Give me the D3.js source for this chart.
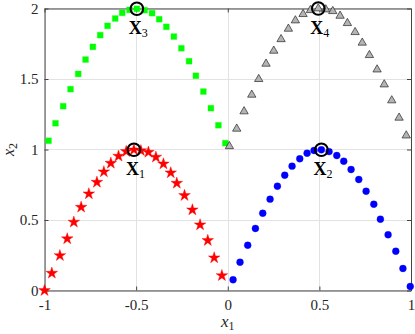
<!DOCTYPE html>
<html>
<head>
<meta charset="utf-8">
<script src="https://cdn.jsdelivr.net/npm/d3@7"></script>
<style>
  body { margin: 0; background: #fff; }
  svg { display: block; }
  text { font-family: "Liberation Serif", "DejaVu Serif", serif; fill: #262626; }
</style>
</head>
<body>
<div id="chart"></div>
<script>
// Series
const redX = [-1.0, -0.960, -0.916, -0.876, -0.840, -0.800, -0.758, -0.714, -0.676, -0.638, -0.596, -0.554, -0.512,
              -0.474, -0.433, -0.392, -0.351, -0.311, -0.278, -0.236, -0.193, -0.151, -0.109, -0.074, -0.032];
const redY = [0.0, 0.123, 0.248, 0.367, 0.485, 0.591, 0.686, 0.768, 0.842, 0.903, 0.953, 0.986, 0.998,
              0.992, 0.981, 0.946, 0.898, 0.835, 0.761, 0.674, 0.572, 0.466, 0.355, 0.232, 0.106];

const blueX = [0.029, 0.067, 0.109, 0.151, 0.191, 0.231, 0.271, 0.311, 0.351, 0.393, 0.433, 0.471, 0.511,
               0.553, 0.595, 0.633, 0.673, 0.715, 0.755, 0.797, 0.833, 0.875, 0.917, 0.956, 0.996];
const blueY = [0.076, 0.201, 0.321, 0.440, 0.548, 0.648, 0.740, 0.818, 0.882, 0.934, 0.974, 0.993, 0.998,
               0.985, 0.957, 0.917, 0.858, 0.787, 0.704, 0.612, 0.506, 0.395, 0.279, 0.156, 0.028];

const greenX = [-0.978, -0.940, -0.898, -0.858, -0.816, -0.776, -0.736, -0.696, -0.656, -0.614, -0.576, -0.536, -0.496,
                -0.454, -0.413, -0.374, -0.335, -0.294, -0.253, -0.211, -0.174, -0.133, -0.092, -0.051, -0.013];
const greenY = [1.062, 1.186, 1.307, 1.428, 1.536, 1.638, 1.728, 1.811, 1.877, 1.929, 1.969, 1.990, 1.998,
                1.988, 1.967, 1.924, 1.870, 1.801, 1.718, 1.626, 1.523, 1.411, 1.293, 1.172, 1.045];

const grayX = [0.009, 0.049, 0.089, 0.131, 0.169, 0.209, 0.251, 0.291, 0.331, 0.369, 0.411, 0.451, 0.494,
               0.535, 0.573, 0.613, 0.653, 0.695, 0.734, 0.773, 0.815, 0.854, 0.895, 0.935, 0.974];
const grayY = [1.023, 1.147, 1.270, 1.388, 1.499, 1.608, 1.700, 1.782, 1.856, 1.915, 1.960, 1.988, 2.0,
               1.993, 1.981, 1.948, 1.896, 1.832, 1.757, 1.669, 1.567, 1.461, 1.348, 1.225, 1.099];

// Highlighted points and their labels
const peakX = [-0.512, 0.511, -0.496, 0.494];
const peakY = [0.998, 0.998, 1.998, 2.0];
const peakLabels = ["1", "2", "3", "4"];

const xTicks = [-1, -0.5, 0, 0.5, 1];
const yTicks = [0, 0.5, 1, 1.5, 2];

const width = 415, height = 334;

const svg = d3.select("#chart").append("svg")
    .attr("width", width)
    .attr("height", height);

const x = d3.scaleLinear().domain([-1, 1]).range([44.5, 411]);
const y = d3.scaleLinear().domain([0, 2]).range([290.5, 8.5]);

// grid
const grid = svg.append("g").attr("stroke", "#e2e2e2").attr("stroke-width", 1);
grid.selectAll("line.gx").data(xTicks).enter().append("line")
    .attr("x1", d => Math.round(x(d)) + 0.5).attr("x2", d => Math.round(x(d)) + 0.5)
    .attr("y1", y(0)).attr("y2", y(2));
grid.selectAll("line.gy").data(yTicks).enter().append("line")
    .attr("y1", d => Math.round(y(d) - 0.5) + 0.5).attr("y2", d => Math.round(y(d) - 0.5) + 0.5)
    .attr("x1", x(-1)).attr("x2", x(1));

// axes (ticks inward, box on)
function styleAxis(g) {
    g.selectAll("path, line").attr("stroke", "#444");
    g.selectAll("text").style("font-size", "15px").attr("fill", "#262626");
}

svg.append("g")
    .attr("transform", `translate(0,${y(0)})`)
    .call(d3.axisBottom(x).tickValues(xTicks).tickSizeInner(-4).tickSizeOuter(0)
        .tickPadding(9).tickFormat(d => String(d)))
    .call(styleAxis);

svg.append("g")
    .attr("transform", `translate(${x(-1)},0)`)
    .call(d3.axisLeft(y).tickValues(yTicks).tickSizeInner(-4).tickSizeOuter(0)
        .tickPadding(6).tickFormat(d => String(d)))
    .call(styleAxis);

svg.append("g")
    .attr("transform", `translate(0,${y(2)})`)
    .call(d3.axisTop(x).tickValues(xTicks).tickSizeInner(-4).tickSizeOuter(0).tickFormat(""))
    .call(styleAxis);

svg.append("g")
    .attr("transform", `translate(${x(1)},0)`)
    .call(d3.axisRight(y).tickValues(yTicks).tickSizeInner(-4).tickSizeOuter(0).tickFormat(""))
    .call(styleAxis);

// series
function drawSeries(xs, ys, type, size, fill, stroke, sw) {
    const pts = xs.map((v, i) => [v, ys[i]]);
    svg.append("g").selectAll("path")
        .data(pts)
        .enter()
        .append("path")
        .attr("d", d3.symbol().type(type).size(size))
        .attr("transform", d => `translate(${x(d[0])},${y(d[1])})`)
        .attr("fill", fill)
        .attr("stroke", stroke)
        .attr("stroke-width", sw);
}

drawSeries(greenX, greenY, d3.symbolSquare, 34, "#00ff00", "#00ff00", 0.3);
drawSeries(grayX, grayY, d3.symbolTriangle, 30, "#b4b4b4", "#262626", 0.7);
drawSeries(redX, redY, d3.symbolStar, 42, "#ff0000", "#ff0000", 0.4);
drawSeries(blueX, blueY, d3.symbolCircle, 38, "#0000ff", "#0000ff", 0.3);

// highlighted points
const peaks = peakX.map((v, i) => ({ x: v, y: peakY[i], label: peakLabels[i] }));

svg.append("g").selectAll("circle")
    .data(peaks)
    .enter()
    .append("circle")
    .attr("cx", d => x(d.x))
    .attr("cy", d => y(d.y))
    .attr("r", 6.3)
    .attr("fill", "none")
    .attr("stroke", "#000")
    .attr("stroke-width", 2);

const lbl = svg.append("g").selectAll("text")
    .data(peaks)
    .enter()
    .append("text")
    .attr("x", d => x(d.x) + 1.5)
    .attr("y", d => y(d.y) + 25)
    .attr("text-anchor", "middle")
    .attr("fill", "#000");
lbl.append("tspan")
    .style("font-size", "18px")
    .style("font-weight", "bold")
    .attr("fill", "#000")
    .text("X");
lbl.append("tspan")
    .style("font-size", "12px")
    .attr("dy", 3)
    .attr("fill", "#000")
    .text(d => d.label);

// axis labels
const xl = svg.append("text")
    .attr("x", (x(-1) + x(1)) / 2)
    .attr("y", 327)
    .attr("text-anchor", "middle");
xl.append("tspan").style("font-size", "17px").style("font-style", "italic").text("x");
xl.append("tspan").style("font-size", "12px").attr("dy", 3).text("1");

const yl = svg.append("text")
    .attr("transform", `translate(14,${(y(0) + y(2)) / 2}) rotate(-90)`)
    .attr("text-anchor", "middle");
yl.append("tspan").style("font-size", "16px").style("font-style", "italic").text("x");
yl.append("tspan").style("font-size", "12px").attr("dy", 3).text("2");
</script>
</body>
</html>
